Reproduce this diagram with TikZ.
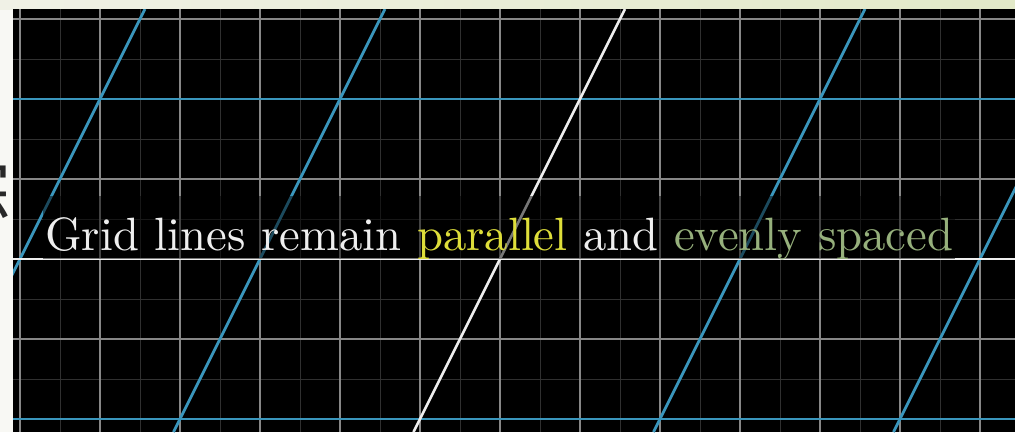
\documentclass[tikz,border=0pt]{standalone}
\usepackage{fontspec}
\newfontfamily\cjkfont{Noto Sans CJK SC}
\definecolor{bluegrid}{RGB}{58,150,188}
\definecolor{majorgrid}{RGB}{135,135,135}
\definecolor{minorgrid}{RGB}{48,48,48}
\definecolor{yel}{RGB}{222,222,58}
\definecolor{grn}{RGB}{150,176,124}
\definecolor{txtwhite}{RGB}{238,238,238}
\definecolor{leftstrip}{RGB}{248,248,244}
\definecolor{topleft}{RGB}{240,241,230}
\definecolor{topright}{RGB}{226,233,200}
\definecolor{cjkgray}{RGB}{40,40,40}
\tikzset{
  minorline/.style={draw=minorgrid, line width=1pt},
  majorline/.style={draw=majorgrid, line width=1.6pt},
  blueline/.style={draw=bluegrid, line width=2.8pt},
  axisline/.style={draw=txtwhite, line width=2.6pt},
}
\begin{document}
\begin{tikzpicture}[x=1pt,y=-1pt]
\useasboundingbox (0,0) rectangle (1015,432);
\fill[leftstrip] (0,0) rectangle (13,432);
\shade[left color=topleft, right color=topright] (0,0) rectangle (1015,9);
\begin{scope}
  \clip (0,0) rectangle (13,432);
  \node[font=\cjkfont\fontsize{72}{72}\selectfont, text=cjkgray, inner sep=0] (frag) at (-25,190) {综};
\end{scope}
\fill[black] (13,9) rectangle (1015,432);
\begin{scope}
  \clip (13,9) rectangle (1015,432);
  % background grid
  \foreach \x in {60,140,...,1020} \draw[minorline] (\x,9) -- (\x,432);
  \foreach \y in {59,139,...,379} \draw[minorline] (13,\y) -- (1015,\y);
  \foreach \x in {20,100,...,980} \draw[majorline] (\x,9) -- (\x,432);
  \foreach \y in {19,179,339} \draw[majorline] (13,\y) -- (1015,\y);
  % transformed grid
  \foreach \y in {99,419} \draw[blueline] (13,\y) -- (1015,\y);
  \foreach \k in {-2,-1,1,2} \draw[blueline] ({625+240*\k},9) -- ({413.5+240*\k},432);
  % transformed axes
  \coordinate (xl) at (13,259);
  \coordinate (xr) at (1015,259);
  \coordinate (yt) at (625,9);
  \coordinate (yb) at (413.5,432);
  \draw[axisline] (xl) -- (xr);
  \draw[axisline] (yt) -- (yb);
\end{scope}
\fill[black, opacity=0.5] (43,196) rectangle (955,258.5);
\node[anchor=base west, inner sep=0, text=txtwhite] (caption) at (45,250)
  {\resizebox{908pt}{!}{Grid lines remain \textcolor{yel}{parallel} and \textcolor{grn}{evenly spaced}}};
\end{tikzpicture}
\end{document}
